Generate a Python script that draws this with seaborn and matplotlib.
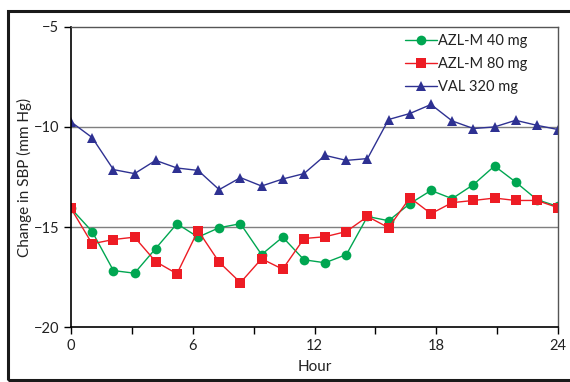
import pandas as pd
import numpy as np
import matplotlib
matplotlib.use("Agg")
import matplotlib.pyplot as plt
from matplotlib.patches import Rectangle
from matplotlib.ticker import MultipleLocator
import seaborn as sns

# hourly readings, 24 points spread over the 0-24 h axis
hours = [0.0, 1.04, 2.09, 3.13, 4.17, 5.22, 6.26, 7.3, 8.35, 9.39, 10.43, 11.48,
         12.52, 13.57, 14.61, 15.65, 16.7, 17.74, 18.78, 19.83, 20.87, 21.91, 22.96, 24.0]

azl40 = [-14.07, -15.22, -17.17, -17.3, -16.07, -14.83, -15.5, -15.03, -14.83, -16.37, -15.5, -16.63,
         -16.78, -16.37, -14.47, -14.68, -13.83, -13.17, -13.58, -12.88, -11.95, -12.75, -13.63, -13.97]
azl80 = [-14.07, -15.83, -15.62, -15.5, -16.72, -17.33, -15.17, -16.75, -17.77, -16.58, -17.1, -15.57,
         -15.48, -15.22, -14.47, -15.03, -13.53, -14.33, -13.78, -13.67, -13.55, -13.67, -13.67, -14.03]
val320 = [-9.75, -10.53, -12.13, -12.33, -11.67, -12.05, -12.17, -13.13, -12.53, -12.95, -12.6, -12.33,
          -11.42, -11.67, -11.58, -9.63, -9.33, -8.88, -9.7, -10.08, -10.0, -9.67, -9.92, -10.13]

groups = ["AZL-M 40 mg", "AZL-M 80 mg", "VAL 320 mg"]
colors = {"AZL-M 40 mg": "#00A651", "AZL-M 80 mg": "#ED1C24", "VAL 320 mg": "#2E3192"}
markers = {"AZL-M 40 mg": "o", "AZL-M 80 mg": "s", "VAL 320 mg": "^"}

df = pd.DataFrame({
    "hour": hours * 3,
    "sbp": azl40 + azl80 + val320,
    "group": [g for g in groups for _ in hours],
})

sns.set_style("white")
plt.rcParams["font.family"] = ["Lato", "DejaVu Sans"]

fig = plt.figure(figsize=(5.7, 3.82), dpi=100)
ax = fig.add_axes([0.1246, 0.1432, 0.979 - 0.1246, 0.930 - 0.1432])

sns.lineplot(data=df, x="hour", y="sbp", hue="group", style="group",
             palette=colors, markers=markers, dashes=False, ax=ax,
             linewidth=1.0, markersize=7, markeredgewidth=0, sort=False)

# gridlines
for yv in [-10, -15]:
    ax.axhline(yv, color="#7f7f7f", lw=1.0, zorder=0)

ax.set_xlim(0, 24)
ax.set_ylim(-20, -5)
ax.set_xticks([0, 6, 12, 18, 24])
ax.xaxis.set_minor_locator(MultipleLocator(3))
ax.set_yticks([-20, -15, -10, -5])
ax.tick_params(axis="both", which="both", direction="out", length=5, width=1,
               color="black", labelsize=10.5, labelcolor="#222222")
ax.tick_params(axis="x", which="minor", bottom=True)
ax.tick_params(axis="x", which="major", bottom=True)
ax.tick_params(axis="y", left=True)

ax.set_xlabel("Hour", fontsize=11, color="#222222", labelpad=5)
ax.set_ylabel("Change in SBP (mm Hg)", fontsize=11, color="#222222")
ax.yaxis.set_label_coords(-0.08, 0.5)

for side in ["left", "bottom"]:
    ax.spines[side].set_color("black")
    ax.spines[side].set_linewidth(1.2)
for side in ["top", "right"]:
    ax.spines[side].set_color("#555555")
    ax.spines[side].set_linewidth(1.0)
    ax.spines[side].set_visible(True)

leg = ax.legend(loc="upper right", bbox_to_anchor=(0.965, 1.02), frameon=False,
                fontsize=10.5, handlelength=2.2, handletextpad=0.1, labelspacing=0.62)
for t in leg.get_texts():
    t.set_color("#222222")

# outer chart border
fig.patches.append(Rectangle((8 / 570, 2 / 382), 1.0, (382 - 13) / 382,
                             transform=fig.transFigure, fill=False,
                             edgecolor="#1a1a1a", lw=2.2, zorder=10))

fig.savefig("out.png", dpi=100)
